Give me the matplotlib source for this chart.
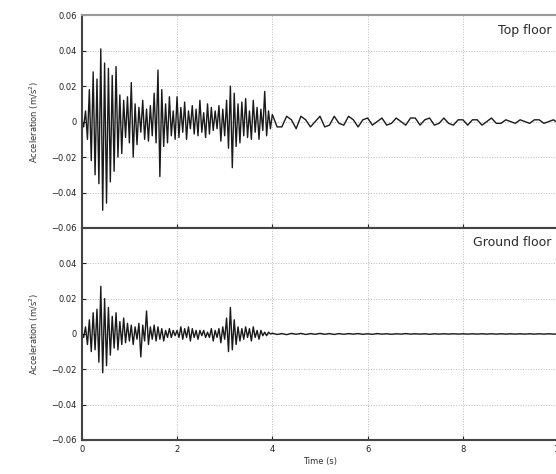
import numpy as np
import matplotlib.pyplot as plt

# time axes: dense part 0-4 s, coarse tail 4-10 s
t_head = np.arange(0, 4, 0.04)
t_tail = np.arange(4, 10.01, 0.1)
t = np.concatenate([t_head, t_tail])

# Top floor acceleration (m/s^2)
top_head = [0.001, -0.003, 0.006, -0.010, 0.018, -0.022, 0.028, -0.030, 0.024, -0.035,
            0.041, -0.050, 0.033, -0.046, 0.030, -0.034, 0.026, -0.028, 0.031, -0.020,
            0.015, -0.018, 0.012, -0.009, 0.014, -0.012, 0.022, -0.020, 0.010, -0.013,
            0.008, -0.006, 0.012, -0.010, 0.007, -0.011, 0.009, -0.008, 0.016, -0.012,
            0.029, -0.031, 0.018, -0.014, 0.010, -0.012, 0.014, -0.008, 0.006, -0.010,
            0.014, -0.009, 0.008, -0.006, 0.011, -0.010, 0.006, -0.004, 0.009, -0.007,
            0.007, -0.008, 0.012, -0.006, 0.005, -0.009, 0.010, -0.007, 0.008, -0.005,
            0.006, -0.004, 0.009, -0.011, 0.007, -0.008, 0.012, -0.015, 0.020, -0.026,
            0.016, -0.014, 0.010, -0.012, 0.011, -0.008, 0.013, -0.009, 0.006, -0.010,
            0.012, -0.006, 0.008, -0.010, 0.007, -0.005, 0.017, -0.008, 0.006, -0.004]
top_tail = [0.004, -0.003, -0.003, 0.003, 0.001, -0.004, 0.003, 0.001, -0.003, 0.000,
            0.003, -0.003, -0.002, 0.003, -0.001, -0.002, 0.003, 0.001, -0.003, 0.001,
            0.002, -0.002, 0.000, 0.002, -0.002, -0.001, 0.002, 0.000, -0.002, 0.002,
            0.002, -0.002, 0.001, 0.002, -0.002, -0.001, 0.002, -0.001, -0.002, 0.001,
            0.001, -0.002, 0.001, 0.001, -0.002, 0.000, 0.002, -0.001, -0.001, 0.001,
            0.000, -0.001, 0.001, 0.000, -0.001, 0.001, 0.001, -0.001, 0.000, 0.001, -0.001]

# Ground floor acceleration (m/s^2)
gnd_head = [0.001, -0.002, 0.004, -0.006, 0.008, -0.010, 0.012, -0.009, 0.014, -0.016,
            0.027, -0.022, 0.020, -0.018, 0.015, -0.012, 0.010, -0.008, 0.012, -0.009,
            0.007, -0.006, 0.009, -0.005, 0.006, -0.004, 0.005, -0.006, 0.004, -0.003,
            0.006, -0.013, 0.005, -0.004, 0.013, -0.006, 0.004, -0.003, 0.005, -0.004,
            0.004, -0.003, 0.003, -0.004, 0.002, -0.002, 0.003, -0.002, 0.002, -0.001,
            0.002, -0.002, 0.004, -0.003, 0.003, -0.002, 0.004, -0.004, 0.003, -0.002,
            0.002, -0.003, 0.002, -0.001, 0.002, -0.002, 0.001, -0.002, 0.003, -0.004,
            0.002, -0.002, 0.003, -0.005, 0.004, -0.003, 0.009, -0.010, 0.015, -0.009,
            0.008, -0.006, 0.004, -0.004, 0.003, -0.003, 0.004, -0.002, 0.003, -0.004,
            0.004, -0.002, 0.002, -0.003, 0.002, -0.001, 0.001, -0.001, 0.001, 0.000]
gnd_tail = [0.0004, -0.0003, 0.0002, -0.0004, 0.0003, -0.0002, 0.0003, -0.0003, 0.0002, -0.0002,
            0.0003, -0.0002, 0.0002, -0.0003, 0.0002, -0.0002, 0.0002, -0.0001, 0.0002, -0.0002,
            0.0001, -0.0002, 0.0002, -0.0001, 0.0001, -0.0002, 0.0001, -0.0001, 0.0002, -0.0001,
            0.0001, -0.0001, 0.0001, -0.0002, 0.0001, -0.0001, 0.0001, -0.0001, 0.0001, -0.0001,
            0.0001, -0.0001, 0.0001, -0.0001, 0.0001, -0.0001, 0.0001, -0.0001, 0.0001, -0.0001,
            0.0001, -0.0001, 0.0001, -0.0001, 0.0001, -0.0001, 0.0001, -0.0001, 0.0001, -0.0001, 0.0]

top = np.array(top_head + top_tail)
gnd = np.array(gnd_head + gnd_tail)

yticks = [-0.06, -0.04, -0.02, 0, 0.02, 0.04, 0.06]
ytick_labels = ["\u22120.06", "\u22120.04", "\u22120.02", "0", "0.02", "0.04", "0.06"]
xticks = [0, 2, 4, 6, 8, 10]

fig = plt.figure(figsize=(5.56, 4.74), dpi=100)
ax1 = fig.add_axes([0.147, 0.519, 0.857, 0.449])
ax2 = fig.add_axes([0.147, 0.072, 0.857, 0.447])

for ax, y, name in [(ax1, top, "Top floor"), (ax2, gnd, "Ground floor")]:
    ax.plot(t, y, color="#1a1a1a", lw=1.0)
    ax.set_xlim(0, 10)
    ax.set_ylim(-0.06, 0.06)
    ax.set_yticks(yticks)
    ax.set_xticks(xticks)
    ax.grid(True, color="#bbbbbb", linestyle=":", lw=0.7)
    ax.tick_params(direction="in", labelsize=6, length=3, colors="#222222")
    ax.set_ylabel("Acceleration (m/s$^2$)", fontsize=6, color="#333333")
    ax.yaxis.set_label_coords(-0.085, 0.5)
    for s in ax.spines.values():
        s.set_linewidth(1.5)
        s.set_color("#444444")
    ax.text(0.985, 0.93, name, transform=ax.transAxes, ha="right", va="center",
            fontsize=9, color="#2a2a2a", fontweight="medium")

ax1.set_yticklabels(ytick_labels)
# the shared boundary shows only the upper panel's -0.06
ax2.set_yticklabels(ytick_labels[:-1] + [""])
ax1.tick_params(labelbottom=False)
ax1.spines["top"].set_color("#999999")
ax2.set_xlabel("Time (s)", fontsize=6, color="#333333", labelpad=2)

plt.savefig("out.png", dpi=100)
